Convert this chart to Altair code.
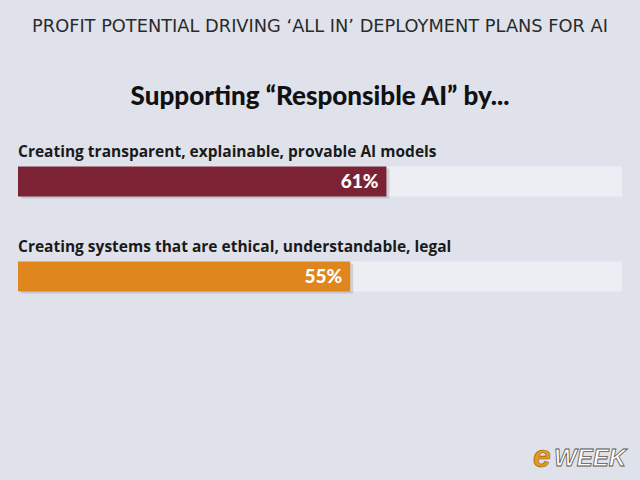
import altair as alt
import pandas as pd

header = "PROFIT POTENTIAL DRIVING \u2018ALL IN\u2019 DEPLOYMENT PLANS FOR AI"
title = "Supporting \u201cResponsible AI\u201d by..."
categories = [
    "Creating transparent, explainable, provable AI models",
    "Creating systems that are ethical, understandable, legal",
]
values = [61, 55]
labels = ["61%", "55%"]
colors = ["#7b2334", "#e0861f"]
track = [100, 100]

df = pd.DataFrame({
    "category": categories,
    "value": values,
    "label": labels,
    "color": colors,
    "track": track,
})

xscale = alt.Scale(domain=[0, 100])
base = alt.Chart(df).encode(
    y=alt.Y("category:N", sort=categories, axis=None,
            scale=alt.Scale(paddingInner=0, paddingOuter=0))
)

track_bar = base.mark_bar(size=30, color="#eceef3").encode(
    x=alt.X("track:Q", scale=xscale, axis=None)
)
shadow = base.mark_bar(size=30, color="#000000", opacity=0.12, xOffset=3, yOffset=2).encode(
    x=alt.X("value:Q", scale=xscale, axis=None)
)
bars = base.mark_bar(size=30).encode(
    x=alt.X("value:Q", scale=xscale, axis=None),
    color=alt.Color("color:N", scale=None),
)
pct = base.mark_text(align="right", baseline="middle", dx=-8, color="white",
                     fontWeight=900, fontSize=19, font="Lato").encode(
    x=alt.X("value:Q", scale=xscale, axis=None),
    text="label:N",
)
cat_text = base.mark_text(align="left", baseline="alphabetic", dy=-25,
                          color="#1a1a1a", fontWeight="bold", fontSize=15.5,
                          font="Open Sans").encode(
    x=alt.datum(0),
    text="category:N",
)

logo_df = pd.DataFrame({"e": ["e"], "w": ["WEEK"]})
logo_e = alt.Chart(logo_df).mark_text(
    align="left", baseline="alphabetic", fontSize=32, fontWeight="bold",
    fontStyle="italic", font="Liberation Sans", color="#e89a1c",
    stroke="#8a5a10", strokeWidth=0.6
).encode(x=alt.value(515), y=alt.value(333), text="e:N")
logo_w = alt.Chart(logo_df).mark_text(
    align="left", baseline="alphabetic", fontSize=24, fontWeight="bold",
    fontStyle="italic", font="Liberation Sans", color="#ffffff",
    stroke="#555555", strokeWidth=0.8
).encode(x=alt.value(536), y=alt.value(332), text="w:N")

chart = alt.layer(track_bar, shadow, bars, pct, cat_text, logo_e, logo_w).properties(
    width=604,
    height=190,
    padding={"left": 18, "right": 18, "top": 134, "bottom": 156},
    autosize=alt.AutoSizeParams(type="none"),
    background="#dfe2ea",
    title=alt.TitleParams(
        text=header,
        subtitle=title,
        anchor="middle",
        frame="group",
        font="DejaVu Sans",
        fontSize=17.8,
        fontWeight="normal",
        color="#2a2a2a",
        subtitleFont="Lato",
        subtitleFontSize=26,
        subtitleFontWeight=900,
        subtitleColor="#111111",
        subtitlePadding=48,
        offset=24,
    ),
).configure_view(stroke=None)

chart.save("out.html", embed_options={"renderer": "svg", "actions": False})
